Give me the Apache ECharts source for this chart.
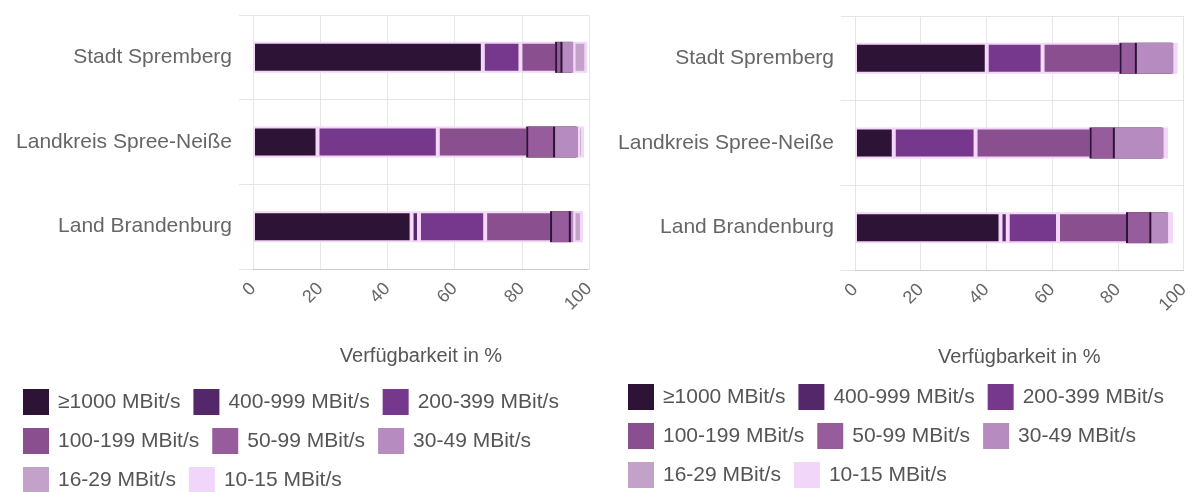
<!DOCTYPE html>
<html><head><meta charset="utf-8">
<script src="https://cdn.jsdelivr.net/npm/echarts@6/dist/echarts.min.js"></script>
<style>html,body{margin:0;padding:0;background:#fff}#c{width:1192px;height:492px}</style>
</head><body><div id="c"></div>
<script>
// ---- data ----
const categories = ['Stadt Spremberg', 'Landkreis Spree-Neiße', 'Land Brandenburg'];
const speedClasses = ['≥1000 MBit/s', '400-999 MBit/s', '200-399 MBit/s', '100-199 MBit/s',
  '50-99 MBit/s', '30-49 MBit/s', '16-29 MBit/s', '10-15 MBit/s'];
const axisTitle = 'Verfügbarkeit in %';

// left chart (segment shares in %)
const leftGe1000 = [68.4, 19.2, 47.2];
const left400_999 = [0, 0, 2.2];
const left200_399 = [11.2, 35.8, 19.7];
const left100_199 = [10.9, 26.9, 19.9];
const left50_99 = [1.6, 8.0, 5.6];
const left30_49 = [3.3, 6.9, 0.8];
const left16_29 = [3.8, 1.4, 2.5];
const left10_15 = [0, 0, 0];

// right chart (segment shares in %)
const rightGe1000 = [40.1, 11.8, 44.3];
const right400_999 = [0, 0, 2.2];
const right200_399 = [17.0, 24.9, 15.3];
const right100_199 = [24.0, 35.3, 21.3];
const right50_99 = [4.7, 7.1, 7.1];
const right30_49 = [11.2, 14.9, 5.2];
const right16_29 = [0.9, 1.0, 1.1];
const right10_15 = [0, 0, 0];

// ---- styles ----
const colors = ['#2d1436', '#53276a', '#76388d', '#8a4f8e', '#975c9c', '#b58bc0', '#c2a2c9', '#f2d6fa'];
const segBorder = '#f3d6f8';
const darkEdge = '#2d1436';
const FONT = '"Liberation Sans", Arial, sans-serif';

const leftValues = [leftGe1000, left400_999, left200_399, left100_199, left50_99, left30_49, left16_29, left10_15];
const rightValues = [rightGe1000, right400_999, right200_399, right100_199, right50_99, right30_49, right16_29, right10_15];

function makeSeries(values, idx) {
  return speedClasses.map((name, i) => {
    const edged = (i === 4 || i === 5);
    return {
      name: name,
      type: 'bar',
      stack: 'total' + idx,
      xAxisIndex: idx,
      yAxisIndex: idx,
      barWidth: 31,
      data: values[i],
      itemStyle: edged ? {
        color: colors[i], borderWidth: 0,
        shadowColor: darkEdge, shadowBlur: 0, shadowOffsetX: -2, shadowOffsetY: 0
      } : {
        color: colors[i], borderColor: segBorder, borderWidth: 2
      },
      emphasis: { disabled: true }
    };
  });
}

function xAxisCfg(idx) {
  return {
    gridIndex: idx, type: 'value', min: 0, max: 100, interval: 20,
    name: axisTitle, nameLocation: 'middle', nameGap: 77,
    nameTextStyle: { fontSize: 20, color: '#555', fontFamily: FONT },
    axisLabel: { rotate: 45, fontSize: 18, color: '#666', margin: 17, fontFamily: FONT },
    axisLine: { show: true, lineStyle: { color: '#ccc' } },
    axisTick: { show: false },
    splitLine: { show: true, lineStyle: { color: '#e6e6e6' } }
  };
}
function yAxisCfg(idx) {
  return {
    gridIndex: idx, type: 'category', data: categories, inverse: true,
    axisLabel: { fontSize: 21, color: '#666', margin: 21, fontFamily: FONT },
    axisLine: { show: false },
    axisTick: { show: true, length: 14, lineStyle: { color: '#e6e6e6' } },
    splitLine: { show: true, lineStyle: { color: '#e6e6e6' } }
  };
}
function legendCfg(left, top) {
  return {
    left: left, top: top, width: 575, orient: 'horizontal',
    itemWidth: 26, itemHeight: 26, itemGap: 13, icon: 'rect',
    data: speedClasses,
    selectedMode: false,
    itemStyle: { borderWidth: 0, shadowBlur: 0, shadowOffsetX: 0, shadowColor: 'rgba(0,0,0,0)' },
    textStyle: { fontSize: 21, color: '#555', fontFamily: FONT, padding: [0, 0, 0, 4] }
  };
}

const chart = echarts.init(document.getElementById('c'), null, { renderer: 'canvas' });
chart.setOption({
  animation: false,
  color: colors,
  textStyle: { fontFamily: FONT },
  grid: [
    { left: 253, top: 15, width: 336, height: 254 },
    { left: 855, top: 16, width: 333, height: 254 }
  ],
  xAxis: [xAxisCfg(0), xAxisCfg(1)],
  yAxis: [yAxisCfg(0), yAxisCfg(1)],
  legend: [legendCfg(18, 384), legendCfg(623, 379)],
  series: makeSeries(leftValues, 0).concat(makeSeries(rightValues, 1))
});
</script>
</body></html>
